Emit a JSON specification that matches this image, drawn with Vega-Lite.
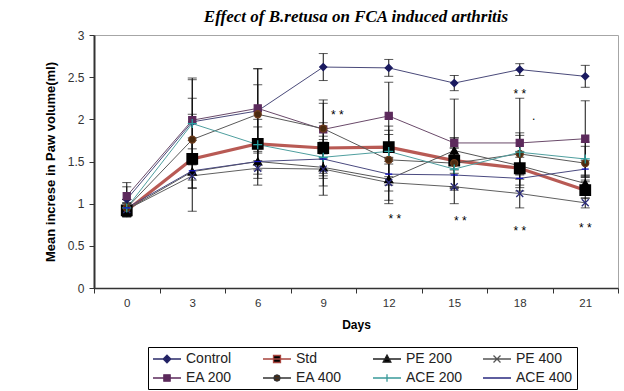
{
  "$schema": "https://vega.github.io/schema/vega-lite/v6.json",
  "width": 524,
  "height": 253,
  "autosize": {"type": "none"},
  "padding": {"left": 94, "top": 35, "right": 6, "bottom": 103},
  "background": "white",
  "config": {"view": {"stroke": "#a6a6a6", "strokeWidth": 1}, "font": "Liberation Sans"},
  "title": {"text": "Effect of B.retusa on FCA induced arthritis", "font": "Liberation Serif", "fontSize": 17, "fontStyle": "italic", "fontWeight": "bold", "color": "#000000", "anchor": "middle", "offset": 3},
  "datasets": {
    "paw": [
      {"series": "Control", "day": 0, "value": 1.05, "err": 0.15},
      {"series": "Control", "day": 3, "value": 1.97, "err": 0.5},
      {"series": "Control", "day": 6, "value": 2.10, "err": 0.5},
      {"series": "Control", "day": 9, "value": 2.62, "err": 0.16},
      {"series": "Control", "day": 12, "value": 2.61, "err": 0.1},
      {"series": "Control", "day": 15, "value": 2.43, "err": 0.09},
      {"series": "Control", "day": 18, "value": 2.59, "err": 0.07},
      {"series": "Control", "day": 21, "value": 2.51, "err": 0.13},
      {"series": "Std", "day": 0, "value": 0.92, "err": 0.08},
      {"series": "Std", "day": 3, "value": 1.53, "err": 0.25},
      {"series": "Std", "day": 6, "value": 1.71, "err": 0.2},
      {"series": "Std", "day": 9, "value": 1.66, "err": 0.3},
      {"series": "Std", "day": 12, "value": 1.67, "err": 0.2},
      {"series": "Std", "day": 15, "value": 1.51, "err": 0.15},
      {"series": "Std", "day": 18, "value": 1.42, "err": 0.2},
      {"series": "Std", "day": 21, "value": 1.16, "err": 0.1},
      {"series": "PE 200", "day": 0, "value": 0.93, "err": 0.08},
      {"series": "PE 200", "day": 3, "value": 1.38, "err": 0.2},
      {"series": "PE 200", "day": 6, "value": 1.50, "err": 0.15},
      {"series": "PE 200", "day": 9, "value": 1.43, "err": 0.33},
      {"series": "PE 200", "day": 12, "value": 1.29, "err": 0.25},
      {"series": "PE 200", "day": 15, "value": 1.63, "err": 0.15},
      {"series": "PE 200", "day": 18, "value": 1.45, "err": 0.1},
      {"series": "PE 200", "day": 21, "value": 1.24, "err": 0.1},
      {"series": "PE 400", "day": 0, "value": 0.93, "err": 0.08},
      {"series": "PE 400", "day": 3, "value": 1.33, "err": 0.42},
      {"series": "PE 400", "day": 6, "value": 1.42, "err": 0.2},
      {"series": "PE 400", "day": 9, "value": 1.41, "err": 0.2},
      {"series": "PE 400", "day": 12, "value": 1.25, "err": 0.25},
      {"series": "PE 400", "day": 15, "value": 1.20, "err": 0.2},
      {"series": "PE 400", "day": 18, "value": 1.12, "err": 0.17},
      {"series": "PE 400", "day": 21, "value": 1.01, "err": 0.06},
      {"series": "EA 200", "day": 0, "value": 1.09, "err": 0.16},
      {"series": "EA 200", "day": 3, "value": 1.99, "err": 0.5},
      {"series": "EA 200", "day": 6, "value": 2.13, "err": 0.47},
      {"series": "EA 200", "day": 9, "value": 1.88, "err": 0.35},
      {"series": "EA 200", "day": 12, "value": 2.04, "err": 0.4},
      {"series": "EA 200", "day": 15, "value": 1.72, "err": 0.52},
      {"series": "EA 200", "day": 18, "value": 1.72, "err": 0.53},
      {"series": "EA 200", "day": 21, "value": 1.77, "err": 0.45},
      {"series": "EA 400", "day": 0, "value": 0.95, "err": 0.1},
      {"series": "EA 400", "day": 3, "value": 1.76, "err": 0.3},
      {"series": "EA 400", "day": 6, "value": 2.06, "err": 0.35},
      {"series": "EA 400", "day": 9, "value": 1.89, "err": 0.3},
      {"series": "EA 400", "day": 12, "value": 1.52, "err": 0.3},
      {"series": "EA 400", "day": 15, "value": 1.48, "err": 0.3},
      {"series": "EA 400", "day": 18, "value": 1.59, "err": 0.25},
      {"series": "EA 400", "day": 21, "value": 1.48, "err": 0.2},
      {"series": "ACE 200", "day": 0, "value": 0.95, "err": 0.1},
      {"series": "ACE 200", "day": 3, "value": 1.95, "err": 0.3},
      {"series": "ACE 200", "day": 6, "value": 1.70, "err": 0.3},
      {"series": "ACE 200", "day": 9, "value": 1.55, "err": 0.25},
      {"series": "ACE 200", "day": 12, "value": 1.62, "err": 0.3},
      {"series": "ACE 200", "day": 15, "value": 1.41, "err": 0.25},
      {"series": "ACE 200", "day": 18, "value": 1.61, "err": 0.2},
      {"series": "ACE 200", "day": 21, "value": 1.53, "err": 0.2},
      {"series": "ACE 400", "day": 0, "value": 0.95, "err": 0.1},
      {"series": "ACE 400", "day": 3, "value": 1.39, "err": 0.2},
      {"series": "ACE 400", "day": 6, "value": 1.50, "err": 0.2},
      {"series": "ACE 400", "day": 9, "value": 1.53, "err": 0.2},
      {"series": "ACE 400", "day": 12, "value": 1.35, "err": 0.2},
      {"series": "ACE 400", "day": 15, "value": 1.34, "err": 0.15},
      {"series": "ACE 400", "day": 18, "value": 1.30, "err": 0.15},
      {"series": "ACE 400", "day": 21, "value": 1.41, "err": 0.1}
    ],
    "stars": [
      {"day": 9, "v": 2.09, "label": "* *"},
      {"day": 18, "v": 2.08, "label": "."},
      {"day": 12, "v": 0.85, "label": "* *"},
      {"day": 15, "v": 0.83, "label": "* *"},
      {"day": 18, "v": 2.34, "label": "* *"},
      {"day": 18, "v": 0.71, "label": "* *"},
      {"day": 21, "v": 0.75, "label": "* *"}
    ]
  },
  "data": {"name": "paw"},
  "resolve": {"scale": {"shape": "independent", "fill": "independent", "stroke": "independent"}},
  "layer": [
    {
      "mark": {"type": "line"},
      "encoding": {
        "x": {"field": "day", "type": "ordinal", "title": "Days",
          "scale": {"type": "band", "paddingInner": 0, "paddingOuter": 0},
          "axis": {"labelAngle": 0, "labelFontSize": 11.5, "labelColor": "#333333", "labelPadding": 4, "tickBand": "extent", "tickSize": 5, "tickColor": "#333333", "domainColor": "#333333", "domainWidth": 1.5, "grid": false, "titleFontSize": 12, "titleFontWeight": "bold", "titleColor": "#000000", "titlePadding": 11}},
        "y": {"field": "value", "type": "quantitative", "title": "Mean increse in Paw volume(ml)",
          "scale": {"domain": [0, 3]},
          "axis": {"values": [0, 0.5, 1, 1.5, 2, 2.5, 3], "format": "~g", "grid": false, "labelFontSize": 12, "labelColor": "#333333", "labelPadding": 5, "tickSize": 5, "tickColor": "#333333", "domainColor": "#333333", "domainWidth": 2, "titleFontSize": 13, "titleFontWeight": "bold", "titleColor": "#000000", "titlePadding": 10}},
        "color": {"field": "series", "type": "nominal",
          "scale": {"domain": ["Control", "Std", "PE 200", "PE 400", "EA 200", "EA 400", "ACE 200", "ACE 400"],
                    "range": ["#4a4a7a", "#b85a54", "#555555", "#606060", "#6a4a6a", "#5a5a5a", "#4f9f9f", "#4a4a80"]},
          "legend": null},
        "strokeWidth": {"field": "series", "type": "nominal",
          "scale": {"type": "ordinal", "domain": ["Control", "Std", "PE 200", "PE 400", "EA 200", "EA 400", "ACE 200", "ACE 400"], "range": [1, 3.2, 1, 1, 1, 1, 1, 1]},
          "legend": null}
      }
    },
    {
      "mark": {"type": "errorbar", "ticks": {"size": 9}, "color": "#111111", "thickness": 1},
      "encoding": {
        "x": {"field": "day", "type": "ordinal", "title": "Days"},
        "y": {"field": "value", "type": "quantitative", "title": "Mean increse in Paw volume(ml)"},
        "yError": {"field": "err"}
      }
    },
    {
      "mark": {"type": "point", "filled": true, "opacity": 1, "strokeWidth": 1.3},
      "encoding": {
        "x": {"field": "day", "type": "ordinal", "title": "Days"},
        "y": {"field": "value", "type": "quantitative", "title": "Mean increse in Paw volume(ml)"},
        "shape": {"field": "series", "type": "nominal",
          "scale": {"domain": ["Control", "Std", "PE 200", "PE 400", "EA 200", "EA 400", "ACE 200", "ACE 400"],
                    "range": ["diamond", "square", "triangle-up", "M-1,-1L1,1M-1,1L1,-1", "square", "circle", "M-1,0L1,0M0,-1L0,1", "M-1,0L1,0"]},
          "legend": null},
        "fill": {"field": "series", "type": "nominal",
          "scale": {"domain": ["Control", "Std", "PE 200", "PE 400", "EA 200", "EA 400", "ACE 200", "ACE 400"],
                    "range": ["#1a1a60", "#000000", "#000000", "#2a2a7a", "#5c2a5c", "#4a2a10", "#2aa0a0", "#1010c0"]},
          "legend": null},
        "stroke": {"field": "series", "type": "nominal",
          "scale": {"domain": ["Control", "Std", "PE 200", "PE 400", "EA 200", "EA 400", "ACE 200", "ACE 400"],
                    "range": ["#1a1a60", "#000000", "#000000", "#2a2a7a", "#5c2a5c", "#6b3b1b", "#2aa0a0", "#1010c0"]},
          "legend": null},
        "size": {"field": "series", "type": "nominal",
          "scale": {"type": "ordinal", "domain": ["Control", "Std", "PE 200", "PE 400", "EA 200", "EA 400", "ACE 200", "ACE 400"],
                    "range": [49, 110, 64, 49, 49, 49, 81, 49]},
          "legend": null}
      }
    },
    {
      "transform": [{"filter": "datum.day < 0"}],
      "mark": {"type": "point", "filled": true, "opacity": 1, "strokeWidth": 1.3},
      "encoding": {
        "x": {"field": "day", "type": "ordinal", "title": "Days"},
        "y": {"field": "value", "type": "quantitative", "title": "Mean increse in Paw volume(ml)"},
        "shape": {"field": "series", "type": "nominal",
          "scale": {"domain": ["Control", "Std", "PE 200", "PE 400", "EA 200", "EA 400", "ACE 200", "ACE 400"],
                    "range": [
                      "M-1,0L3,0M1,-0.55L1.55,0L1,0.55L0.45,0Z",
                      "M-1,0L3,0M0.5,-0.5L1.5,-0.5L1.5,0.5L0.5,0.5Z",
                      "M-1,0L3,0M1,-0.55L1.55,0.45L0.45,0.45Z",
                      "M-1,0L3,0M0.5,-0.5L1.5,0.5M0.5,0.5L1.5,-0.5",
                      "M-1,0L3,0M0.55,-0.45L1.45,-0.45L1.45,0.45L0.55,0.45Z",
                      "M-1,0L3,0M0.55,0L0.68,-0.32L1,-0.45L1.32,-0.32L1.45,0L1.32,0.32L1,0.45L0.68,0.32Z",
                      "M-1,0L3,0M1,-0.55L1,0.55",
                      "M-1,0L3,0M0.5,0L1.5,0"
                    ]},
          "legend": {"orient": "none", "legendX": 54, "legendY": 312, "direction": "horizontal", "columns": 4, "title": null,
            "strokeColor": "#000000", "fillColor": "#ffffff", "padding": 4, "labelFontSize": 14, "labelColor": "#222222",
            "symbolSize": 196, "symbolStrokeWidth": 1.3, "labelOffset": 18, "columnPadding": 17, "rowPadding": 4, "gridAlign": "all"}},
        "fill": {"field": "series", "type": "nominal",
          "scale": {"domain": ["Control", "Std", "PE 200", "PE 400", "EA 200", "EA 400", "ACE 200", "ACE 400"],
                    "range": ["#1a1a60", "#000000", "#000000", "#2a2a7a", "#5c2a5c", "#4a2a10", "#2aa0a0", "#1010c0"]},
          "legend": {"orient": "none", "legendX": 54, "legendY": 312, "direction": "horizontal", "columns": 4, "title": null,
            "strokeColor": "#000000", "fillColor": "#ffffff", "padding": 4, "labelFontSize": 14, "labelColor": "#222222",
            "symbolSize": 196, "symbolStrokeWidth": 1.3, "labelOffset": 18, "columnPadding": 17, "rowPadding": 4, "gridAlign": "all"}},
        "stroke": {"field": "series", "type": "nominal",
          "scale": {"domain": ["Control", "Std", "PE 200", "PE 400", "EA 200", "EA 400", "ACE 200", "ACE 400"],
                    "range": ["#2a2a6a", "#a8443e", "#222222", "#555555", "#5c2a5c", "#333333", "#3a9a9a", "#2a2a80"]},
          "legend": {"orient": "none", "legendX": 54, "legendY": 312, "direction": "horizontal", "columns": 4, "title": null,
            "strokeColor": "#000000", "fillColor": "#ffffff", "padding": 4, "labelFontSize": 14, "labelColor": "#222222",
            "symbolSize": 196, "symbolStrokeWidth": 1.3, "labelOffset": 18, "columnPadding": 17, "rowPadding": 4, "gridAlign": "all"}}
      }
    },
    {
      "data": {"name": "stars"},
      "transform": [{"filter": "datum.day === 9 || datum.label === '.'"}],
      "mark": {"type": "text", "dx": 14, "dy": 3, "fontSize": 12, "color": "#000000", "baseline": "middle", "align": "center"},
      "encoding": {
        "x": {"field": "day", "type": "ordinal", "title": "Days"},
        "y": {"field": "v", "type": "quantitative", "title": "Mean increse in Paw volume(ml)"},
        "text": {"field": "label"}
      }
    },
    {
      "data": {"name": "stars"},
      "transform": [{"filter": "(datum.day === 12 || datum.day === 15) && datum.label !== '.'"}],
      "mark": {"type": "text", "dx": 6, "dy": 3, "fontSize": 12, "color": "#000000", "baseline": "middle", "align": "center"},
      "encoding": {
        "x": {"field": "day", "type": "ordinal", "title": "Days"},
        "y": {"field": "v", "type": "quantitative", "title": "Mean increse in Paw volume(ml)"},
        "text": {"field": "label"}
      }
    },
    {
      "data": {"name": "stars"},
      "transform": [{"filter": "(datum.day === 18 || datum.day === 21) && datum.label !== '.'"}],
      "mark": {"type": "text", "dx": 0, "dy": 3, "fontSize": 12, "color": "#000000", "baseline": "middle", "align": "center"},
      "encoding": {
        "x": {"field": "day", "type": "ordinal", "title": "Days"},
        "y": {"field": "v", "type": "quantitative", "title": "Mean increse in Paw volume(ml)"},
        "text": {"field": "label"}
      }
    }
  ]
}
